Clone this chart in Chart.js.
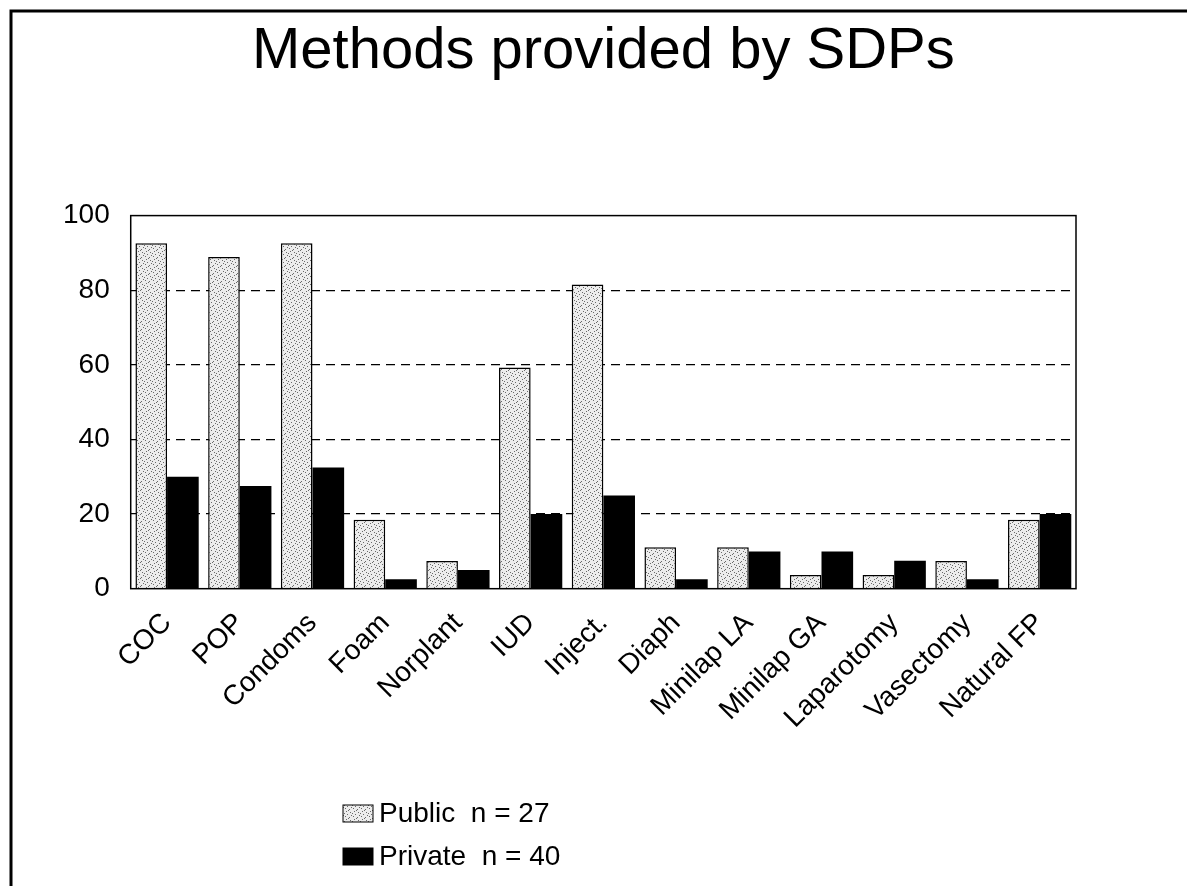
<!DOCTYPE html>
<html>
<head>
<meta charset="utf-8">
<script src="https://cdn.jsdelivr.net/npm/chart.js@4.4.1/dist/chart.umd.min.js"></script>
<style>
  html, body { margin: 0; padding: 0; background: #fff; }
  canvas { display: block; }
</style>
</head>
<body>
<canvas id="sdpChart" width="1187" height="886"></canvas>
<script>
// ===== DATA =====
const categories = ["COC", "POP", "Condoms", "Foam", "Norplant", "IUD", "Inject.",
                    "Diaph", "Minilap LA", "Minilap GA", "Laparotomy", "Vasectomy", "Natural FP"];
const publicValues = [92.6, 88.9, 92.6, 18.5, 7.4, 59.3, 81.5, 11.1, 11.1, 3.7, 3.7, 7.4, 18.5];
const privateValues = [30, 27.5, 32.5, 2.5, 5, 20, 25, 2.5, 10, 10, 7.5, 2.5, 20];
const seriesLabels = ["Public  n = 27", "Private  n = 40"];
const yTicks = [0, 20, 40, 60, 80, 100];
const chartTitle = "Methods provided by SDPs";

const FONT = "'Liberation Sans', Arial, Helvetica, sans-serif";

// ===== STIPPLE FILL FOR PUBLIC BARS =====
function stipple() {
    const c = document.createElement("canvas");
    c.width = 8;
    c.height = 8;
    const g = c.getContext("2d");
    g.fillStyle = "#ececec";
    g.fillRect(0, 0, 8, 8);
    g.fillStyle = "#6a6a6a";
    [[1, 0], [5, 1], [2, 3], [6, 4], [0, 5], [3, 6], [7, 7], [4, 2]].forEach(([x, y]) => g.fillRect(x, y, 1, 1));
    return g.createPattern(c, "repeat");
}
const publicFill = stipple();

// ===== PAGE FRAME + PLOT BOX =====
const framePlugin = {
    id: "frame",
    beforeDraw(chart) {
        const ctx = chart.ctx;
        ctx.save();
        ctx.fillStyle = "#fff";
        ctx.fillRect(0, 0, chart.width, chart.height);
        ctx.strokeStyle = "#000";
        ctx.lineWidth = 3;
        ctx.beginPath();
        ctx.moveTo(11, chart.height);
        ctx.lineTo(11, 11);
        ctx.lineTo(chart.width, 11);
        ctx.stroke();
        ctx.restore();
    },
    afterDatasetsDraw(chart) {
        const a = chart.chartArea;
        const ctx = chart.ctx;
        ctx.save();
        ctx.strokeStyle = "#000";
        ctx.lineWidth = 1.5;
        ctx.strokeRect(a.left, a.top, a.right - a.left, a.bottom - a.top);
        ctx.restore();
    }
};

// ===== STACKED LEGEND UNDER THE AXIS =====
const stackedLegend = {
    id: "stackedLegend",
    afterDraw(chart) {
        const ctx = chart.ctx;
        ctx.save();
        ctx.font = "28px " + FONT;
        ctx.textBaseline = "middle";
        ctx.textAlign = "left";
        chart.data.datasets.forEach((ds, i) => {
            const y = 805 + i * 43;
            ctx.fillStyle = ds.backgroundColor;
            ctx.fillRect(343, y, 30, 17);
            ctx.strokeStyle = "#000";
            ctx.lineWidth = 1;
            ctx.strokeRect(343, y, 30, 17);
            ctx.fillStyle = "#000";
            ctx.fillText(ds.label, 379, y + 9.5);
        });
        ctx.restore();
    }
};

new Chart(document.getElementById("sdpChart").getContext("2d"), {
    type: "bar",
    data: {
        labels: categories,
        datasets: [
            {
                label: seriesLabels[0],
                data: publicValues,
                backgroundColor: publicFill,
                borderColor: "#000",
                borderWidth: 1.5,
                categoryPercentage: 0.87,
                barPercentage: 1
            },
            {
                label: seriesLabels[1],
                data: privateValues,
                backgroundColor: "#000",
                borderColor: "#000",
                borderWidth: 0,
                categoryPercentage: 0.87,
                barPercentage: 1
            }
        ]
    },
    options: {
        responsive: false,
        animation: false,
        layout: { padding: { top: 12, left: 42, right: 111, bottom: 133 } },
        plugins: {
            legend: { display: false },
            tooltip: { enabled: false },
            title: {
                display: true,
                text: chartTitle,
                fullSize: false,
                color: "#000",
                font: { family: FONT, size: 58, weight: "normal" },
                padding: { top: 5, bottom: 129 }
            }
        },
        scales: {
            x: {
                grid: { display: false, drawTicks: false },
                border: { display: false },
                ticks: {
                    color: "#000",
                    font: { family: FONT, size: 28 },
                    minRotation: 45,
                    maxRotation: 45,
                    padding: 18,
                    autoSkip: false
                }
            },
            y: {
                min: 0,
                max: 100,
                afterBuildTicks(scale) {
                    scale.ticks = yTicks.map(v => ({ value: v }));
                },
                grid: {
                    drawTicks: false,
                    color: ctx => (ctx.tick && (ctx.tick.value === 0 || ctx.tick.value === 100)) ? "rgba(0,0,0,0)" : "#000",
                    lineWidth: 1.2
                },
                border: { display: false, dash: [9, 6] },
                ticks: {
                    color: "#000",
                    font: { family: FONT, size: 28 },
                    padding: 21
                }
            }
        }
    },
    plugins: [framePlugin, stackedLegend]
});
</script>
</body>
</html>
